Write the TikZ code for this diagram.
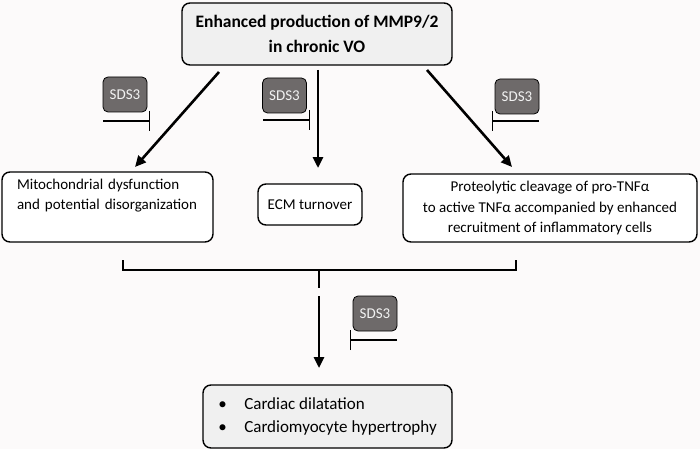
\documentclass[tikz,border=0pt]{standalone}
\usepackage{fontspec}
\setmainfont{Carlito}
\usetikzlibrary{arrows.meta}
\definecolor{bgc}{HTML}{FCFAFA}
\definecolor{boxg}{HTML}{F0F0F0}
\definecolor{sdsg}{HTML}{6E6A6A}
\definecolor{sdst}{HTML}{F2F2F2}
\tikzset{
  mainbox/.style={draw=black, line width=1.4pt, rounded corners=8pt, minimum width=#1, inner sep=0pt},
  sdsbox/.style={draw=black, line width=0.8pt, fill=sdsg, rounded corners=5pt, minimum width=44pt, minimum height=35pt, inner sep=0pt, text=sdst, font=\fontsize{15}{17}\selectfont},
  bigarrow/.style={line width=2.6pt, -{Triangle[length=11pt,width=10pt]}},
  inhib/.style={line width=1.2pt, -{Bar[width=20pt,line width=1.2pt]}},
  brack/.style={line width=1.3pt},
  txt/.style={font=\fontsize{15}{20}\selectfont}
}
\begin{document}
\begin{tikzpicture}[x=1pt,y=-1pt]
\fill[bgc] (0,0) rectangle (700,449);
\useasboundingbox (0,0) rectangle (700,449);

% top box
\node[mainbox=270pt, minimum height=62pt, fill=boxg, align=center, font=\fontsize{17.5}{25}\selectfont\bfseries] (top) at (317,34) {Enhanced production of MMP9/2\\in chronic VO};

% middle boxes
\node[mainbox=211pt, minimum height=70pt, fill=white, txt, align=left, text width=181pt] (mito) at (107.5,207) {Mitochondrial dysfunction\\and potential disorganization\\\strut};
\node[mainbox=104pt, minimum height=41pt, fill=white, txt] (ecm) at (310,204.5) {ECM turnover};
\node[mainbox=294pt, minimum height=68pt, fill=white, txt, align=center] (prot) at (550,208) {Proteolytic cleavage of pro-TNFα\\to active TNFα accompanied by enhanced\\recruitment of inflammatory cells};

% bottom box
\node[mainbox=249pt, minimum height=63pt, fill=boxg, font=\fontsize{17}{23}\selectfont] (out) at (327.5,416.5) {\begin{tabular}{@{}p{26pt}@{}l@{}}\textbullet & Cardiac dilatation\\\textbullet & Cardiomyocyte hypertrophy\end{tabular}};

% arrows from top
\coordinate (a1s) at (219,72);
\coordinate (a1e) at (135,167);
\coordinate (a2s) at (318,70);
\coordinate (a2e) at (318,168);
\coordinate (a3s) at (427,70);
\coordinate (a3e) at (512,167);
\draw[bigarrow] (a1s) -- (a1e);
\draw[bigarrow] (a2s) -- (a2e);
\draw[bigarrow] (a3s) -- (a3e);

% SDS3 inhibitors
\node[sdsbox] (s1) at (125,94.5) {SDS3};
\node[sdsbox] (s2) at (284.5,95.5) {SDS3};
\node[sdsbox] (s3) at (517,96.5) {SDS3};
\node[sdsbox] (s4) at (375,313.5) {SDS3};
\coordinate (i1s) at (103,121);
\coordinate (i1e) at (150,121);
\coordinate (i2s) at (263,120);
\coordinate (i2e) at (310,120);
\coordinate (i3s) at (539,121);
\coordinate (i3e) at (492,121);
\coordinate (i4s) at (397,340);
\coordinate (i4e) at (350,340);
\draw[inhib] (i1s) -- (i1e);
\draw[inhib] (i2s) -- (i2e);
\draw[inhib] (i3s) -- (i3e);
\draw[inhib] (i4s) -- (i4e);

% bracket
\coordinate (bl) at (123,260);
\coordinate (br) at (516,260);
\coordinate (bm) at (319,270);
\coordinate (bt) at (319,288);
\draw[brack] (bl) |- (bm) -| (br);
\draw[brack] (bm) -- (bt);

% final arrow
\coordinate (fs) at (319,296);
\coordinate (fe) at (319,368);
\draw[bigarrow] (fs) -- (fe);
\end{tikzpicture}
\end{document}
